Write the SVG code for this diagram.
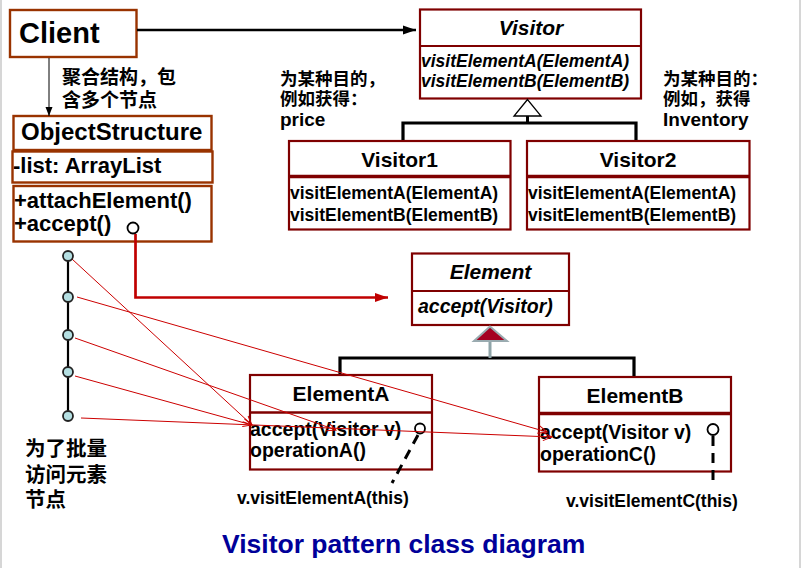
<svg xmlns="http://www.w3.org/2000/svg" width="802" height="568" viewBox="0 0 802 568">
<style>
text{font-family:"Liberation Sans",Arial,"Noto Sans CJK SC",sans-serif;font-weight:bold;fill:#000}
.cjk{font-family:"Noto Sans CJK SC","Liberation Sans",sans-serif;font-weight:bold}
.bx{fill:#fff;stroke:#7f0000;stroke-width:2.2}
.ob{fill:#fff;stroke:#993300;stroke-width:2.4}
.it{font-style:italic}
.mid{text-anchor:middle}
.blk{fill:none;stroke:#000;stroke-width:3.2}
.thin{fill:none;stroke:#cc0000;stroke-width:1}
.pt{fill:#b4dfe2;stroke:#222;stroke-width:1.8}
</style>
<defs>
<marker id="ab" markerUnits="userSpaceOnUse" markerWidth="14" markerHeight="10" refX="13" refY="5" orient="auto"><path d="M0,0.5 L13,5 L0,9.5 Z" fill="#000"/></marker>
<marker id="abs" markerUnits="userSpaceOnUse" markerWidth="10" markerHeight="8" refX="9" refY="4" orient="auto"><path d="M0,0.5 L9,4 L0,7.5 Z" fill="#000"/></marker>
<marker id="ar" markerUnits="userSpaceOnUse" markerWidth="14" markerHeight="10" refX="13" refY="5" orient="auto"><path d="M0,0.5 L13,5 L0,9.5 Z" fill="#c00000"/></marker>
<marker id="av" markerUnits="userSpaceOnUse" markerWidth="12" markerHeight="10" refX="10" refY="5" orient="auto"><path d="M1,1 L10,5 L1,9" fill="none" stroke="#cc0000" stroke-width="1"/></marker>
</defs>
<rect x="0" y="0" width="802" height="568" fill="#fff"/>
<line x1="1" y1="0" x2="1" y2="568" stroke="#c8c8c8" stroke-width="1.5"/>
<line x1="800" y1="0" x2="800" y2="568" stroke="#c8c8c8" stroke-width="1.5"/>

<g id="client">
<rect class="ob" x="10" y="10" width="126.5" height="47"/>
<text x="19" y="43" font-size="29">Client</text>
</g>

<g id="objectstructure">
<rect class="ob" x="13.5" y="116" width="198" height="34"/>
<text x="21" y="140" font-size="24">ObjectStructure</text>
<rect class="ob" x="12.5" y="151.5" width="200" height="31"/>
<text x="13" y="173" font-size="22">-list: ArrayList</text>
<rect class="ob" x="13.5" y="186" width="198" height="55.5"/>
<text x="14" y="208" font-size="22">+attachElement()</text>
<text x="14" y="231" font-size="22">+accept()</text>
<circle cx="133" cy="228" r="5.5" fill="#fff" stroke="#000" stroke-width="1.8"/>
</g>

<g id="visitor">
<rect class="bx" x="420" y="9.5" width="221" height="89"/>
<line x1="420" y1="46" x2="641" y2="46" stroke="#7f0000" stroke-width="2.2"/>
<text class="it mid" x="531" y="35" font-size="21">Visitor</text>
<text class="it" x="421" y="66.5" font-size="17.5">visitElementA(ElementA)</text>
<text class="it" x="421" y="87" font-size="17.5">visitElementB(ElementB)</text>
</g>

<g id="visitor1">
<rect class="bx" x="289" y="141" width="221.5" height="88.5"/>
<line x1="289" y1="176.5" x2="510.5" y2="176.5" stroke="#7f0000" stroke-width="3.5"/>
<text class="mid" x="399.5" y="166.5" font-size="21">Visitor1</text>
<text x="290" y="199" font-size="17.5">visitElementA(ElementA)</text>
<text x="290" y="220.5" font-size="17.5">visitElementB(ElementB)</text>
</g>

<g id="visitor2">
<rect class="bx" x="527" y="141" width="222.5" height="88.5"/>
<line x1="527" y1="176.5" x2="749.5" y2="176.5" stroke="#7f0000" stroke-width="3.5"/>
<text class="mid" x="638" y="166.5" font-size="21">Visitor2</text>
<text x="528" y="199" font-size="17.5">visitElementA(ElementA)</text>
<text x="528" y="220.5" font-size="17.5">visitElementB(ElementB)</text>
</g>

<g id="element">
<rect class="bx" x="412" y="253.5" width="157" height="71.5"/>
<line x1="412" y1="291" x2="569" y2="291" stroke="#7f0000" stroke-width="2.2"/>
<text class="it mid" x="490.5" y="278.5" font-size="21">Element</text>
<text class="it" x="418" y="313" font-size="19.5">accept(Visitor)</text>
</g>

<g id="elementA">
<rect class="bx" x="250" y="375" width="182" height="94.5"/>
<line x1="250" y1="412.5" x2="432" y2="412.5" stroke="#7f0000" stroke-width="2.5"/>
<text class="mid" x="341" y="400.5" font-size="21">ElementA</text>
<text x="250" y="435.5" font-size="19.5">accept(Visitor v)</text>
<text x="250" y="457" font-size="19.5">operationA()</text>
<circle cx="420" cy="428.5" r="5" fill="#fff" stroke="#000" stroke-width="1.8"/>
</g>

<g id="elementB">
<rect class="bx" x="539" y="377" width="192" height="94.5"/>
<line x1="539" y1="413.5" x2="731" y2="413.5" stroke="#7f0000" stroke-width="3.5"/>
<text class="mid" x="635" y="403" font-size="21">ElementB</text>
<text x="540" y="439" font-size="19.5">accept(Visitor v)</text>
<text x="540" y="461" font-size="19.5">operationC()</text>
<circle cx="713" cy="429.5" r="5.5" fill="#fff" stroke="#000" stroke-width="1.8"/>
</g>

<g id="labels">
<text class="cjk" x="62" y="84" font-size="19">聚合结构，包</text>
<text class="cjk" x="62" y="107" font-size="19">含多个节点</text>
<text class="cjk" x="280" y="85" font-size="17.5">为某种目的，</text>
<text class="cjk" x="280" y="105" font-size="17.5">例如获得：</text>
<text x="280" y="125.5" font-size="19">price</text>
<text class="cjk" x="663" y="85" font-size="17.5">为某种目的：</text>
<text class="cjk" x="663" y="105" font-size="17.5">例如，获得</text>
<text x="663" y="126" font-size="19">Inventory</text>
<text class="cjk" x="25" y="456" font-size="20.5">为了批量</text>
<text class="cjk" x="25" y="482" font-size="20.5">访问元素</text>
<text class="cjk" x="25" y="507" font-size="20.5">节点</text>
<text x="237" y="504" font-size="17.5">v.visitElementA(this)</text>
<text x="566" y="507" font-size="17.5">v.visitElementC(this)</text>
<text x="222" y="553" font-size="26.5" style="fill:#000099">Visitor pattern class diagram</text>
</g>

<g id="connectors">
<line x1="137" y1="30" x2="416" y2="30" stroke="#000" stroke-width="2.7" marker-end="url(#ab)"/>
<line x1="49" y1="58" x2="49" y2="116" stroke="#000" stroke-width="1" marker-end="url(#abs)"/>
<polyline points="135.5,234 135.5,297.5 388,297.5" fill="none" stroke="#c00000" stroke-width="2.7" marker-end="url(#ar)"/>
<polyline class="blk" points="403,140 403,123 636,123 636,140"/>
<line x1="527.5" y1="116" x2="527.5" y2="123" stroke="#000" stroke-width="3"/>
<polygon points="527.5,99.5 514,116 541,116" fill="#fff" stroke="#000" stroke-width="1.3"/>
<polyline class="blk" points="340,374 340,358 634,358 634,376"/>
<line x1="490" y1="341" x2="490" y2="358" stroke="#8fa4a8" stroke-width="3"/>
<polygon points="490,326.5 474,341 507,341" fill="#a50021" stroke="#9aabb0" stroke-width="2"/>
<line x1="68" y1="256" x2="68" y2="416" stroke="#000" stroke-width="2.2"/>
<line class="thin" x1="72" y1="259" x2="252" y2="425" marker-end="url(#av)"/>
<line class="thin" x1="77" y1="297" x2="547" y2="432" marker-end="url(#av)"/>
<line class="thin" x1="75" y1="338" x2="336" y2="430" marker-end="url(#av)"/>
<line class="thin" x1="75" y1="376" x2="252" y2="425" marker-end="url(#av)"/>
<line class="thin" x1="81" y1="418" x2="552" y2="437" marker-end="url(#av)"/>
<line x1="418" y1="435" x2="392" y2="483" stroke="#000" stroke-width="3" stroke-dasharray="10,7"/>
<line x1="713" y1="436" x2="713" y2="484" stroke="#000" stroke-width="3" stroke-dasharray="10,7"/>
</g>

<g id="nodes-points">
<circle class="pt" cx="68" cy="256" r="5"/>
<circle class="pt" cx="68" cy="297" r="5"/>
<circle class="pt" cx="68" cy="335" r="5"/>
<circle class="pt" cx="68" cy="372" r="5"/>
<circle class="pt" cx="68" cy="416" r="5"/>
</g>
</svg>
